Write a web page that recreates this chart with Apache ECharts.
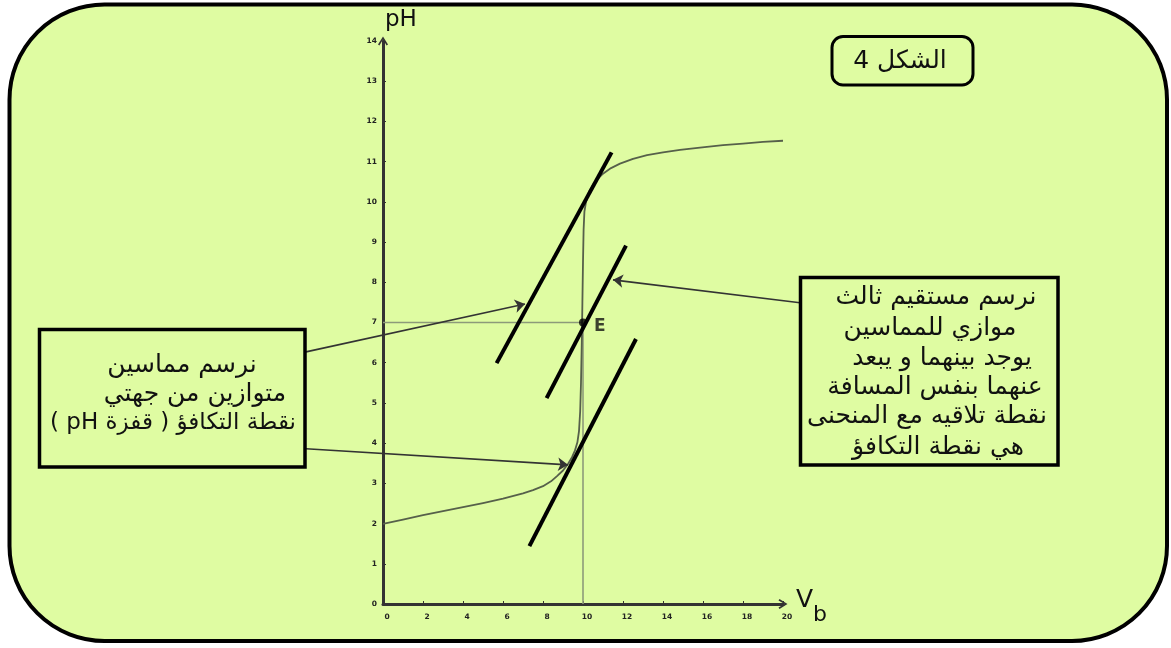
<!DOCTYPE html>
<html>
<head>
<meta charset="utf-8">
<script src="https://cdn.jsdelivr.net/npm/echarts@6/dist/echarts.min.js"></script>
<style>
html,body{margin:0;padding:0;background:#ffffff;}
#chart{width:1171px;height:648px;}
</style>
</head>
<body>
<div id="chart" dir="rtl"></div>
<script>
// Titration curve pH = f(Vb)
const vbValues = [0, 1, 2, 3, 4, 5, 6, 7, 7.5, 8, 8.4, 8.7, 9, 9.25, 9.45, 9.6, 9.72, 9.8, 9.86, 9.9, 9.94, 9.97, 10.0, 10.03, 10.07, 10.15, 10.3, 10.5, 10.75, 11, 11.4, 11.85, 12.5, 13.2, 14, 14.85, 15.85, 17, 18, 19, 20];
const phValues = [1.99, 2.1, 2.21, 2.31, 2.41, 2.51, 2.62, 2.75, 2.83, 2.93, 3.05, 3.18, 3.32, 3.48, 3.65, 3.82, 4.02, 4.3, 4.8, 5.5, 6.5, 7.5, 8.5, 9.3, 9.75, 10.0, 10.25, 10.43, 10.58, 10.7, 10.84, 10.95, 11.07, 11.16, 11.23, 11.29, 11.35, 11.41, 11.45, 11.49, 11.52];

// tangents and the parallel middle line
const tangentUpper = [[5.68, 5.99], [11.43, 11.23]];
const tangentLower = [[7.32, 1.44], [12.65, 6.59]];
const middleLine = [[8.18, 5.12], [12.15, 8.91]];

// equivalence point E
const pointE = [10, 7];
const dropHorizontal = [[0, 7], [10, 7]];
const dropVertical = [[10, 7], [10, 0]];

// annotation arrows (start, tip) in data units
const arrowToUpper = [[-3.85, 6.27], [7.1, 7.46]];
const arrowToLower = [[-3.85, 3.86], [9.25, 3.46]];
const arrowToMiddle = [[20.85, 7.49], [11.5, 8.06]];

// ticks
const xTicks = [0, 2, 4, 6, 8, 10, 12, 14, 16, 18, 20];
const yTicks = [0, 1, 2, 3, 4, 5, 6, 7, 8, 9, 10, 11, 12, 13, 14];

// texts
const titleText = 'الشكل 4';
const leftBoxLines = ['نرسم مماسين', 'متوازين من جهتي', 'نقطة التكافؤ ( قفزة pH )'];
const rightBoxLines = ['نرسم مستقيم ثالث', 'موازي للمماسين', 'يوجد بينهما و يبعد', 'عنهما بنفس المسافة', 'نقطة تلاقيه مع المنحنى', 'هي نقطة التكافؤ'];

const curveData = vbValues.map((v, i) => [v, phValues[i]]);
const FONT = 'DejaVu Sans';
const chevron = 'path://M5,0 L10,8 L8.6,9 L5,3 L1.4,9 L0,8 Z';
const textFont = '25px "DejaVu Sans"';

const graphics = [
  { type: 'rect', z: -10, silent: true,
    shape: { x: 9.5, y: 4.5, width: 1157.5, height: 636.5, r: 95 },
    style: { fill: '#dffca2', stroke: '#000', lineWidth: 4 } },
  { type: 'rect', z: 10,
    shape: { x: 832, y: 36.5, width: 141, height: 48.5, r: 11 },
    style: { fill: 'none', stroke: '#000', lineWidth: 3 } },
  { type: 'text', z: 10, x: 900, y: 61,
    style: { text: titleText, font: textFont, fill: '#111', textAlign: 'center', textVerticalAlign: 'middle' } },
  { type: 'rect', z: 10,
    shape: { x: 39.5, y: 329.5, width: 265.5, height: 137.5 },
    style: { fill: 'none', stroke: '#000', lineWidth: 3.5 } },
  { type: 'rect', z: 10,
    shape: { x: 800.5, y: 277.5, width: 257.5, height: 187.5 },
    style: { fill: 'none', stroke: '#000', lineWidth: 3.5 } },
  { type: 'text', z: 10, x: 385, y: 20,
    style: { text: 'pH', font: '23px "DejaVu Sans"', fill: '#111', textAlign: 'left', textVerticalAlign: 'middle' } },
  { type: 'text', z: 10, x: 796, y: 600,
    style: { text: 'V', font: '25px "DejaVu Sans"', fill: '#111', textAlign: 'left', textVerticalAlign: 'middle' } },
  { type: 'text', z: 10, x: 813, y: 615,
    style: { text: 'b', font: '22px "DejaVu Sans"', fill: '#111', textAlign: 'left', textVerticalAlign: 'middle' } }
];
const leftCenters = [182, 195, 173];
const leftYs = [365, 394, 423];
const leftFonts = [textFont, textFont, '23px "DejaVu Sans"'];
leftBoxLines.forEach((t, i) => graphics.push({ type: 'text', z: 10, x: leftCenters[i], y: leftYs[i],
  style: { text: t, font: leftFonts[i], fill: '#111', textAlign: 'center', textVerticalAlign: 'middle' } }));
const rightCenters = [936, 930, 942, 935, 927, 938];
const rightYs = [297, 328, 358, 387, 416, 447];
rightBoxLines.forEach((t, i) => graphics.push({ type: 'text', z: 10, x: rightCenters[i], y: rightYs[i],
  style: { text: t, font: textFont, fill: '#111', textAlign: 'center', textVerticalAlign: 'middle' } }));

const tickLabel = { fontFamily: FONT, fontSize: 7.5, fontWeight: 'bold', color: '#222' };

const chart = echarts.init(document.getElementById('chart'), null, { renderer: 'canvas' });
chart.setOption({
  animation: false,
  backgroundColor: 'transparent',
  grid: { left: 383, right: 388, top: 41, bottom: 44, containLabel: false },
  xAxis: {
    type: 'value', min: xTicks[0], max: xTicks[xTicks.length - 1], interval: 2,
    splitLine: { show: false },
    axisLine: { show: true, lineStyle: { color: '#333', width: 3 }, symbol: ['none', chevron], symbolSize: [10, 9] },
    axisTick: { show: true, inside: true, length: 3, lineStyle: { color: '#333', width: 1 } },
    axisLabel: Object.assign({ margin: 9, padding: [0, 0, 0, 8], showMaxLabel: true, showMinLabel: true }, tickLabel)
  },
  yAxis: {
    type: 'value', min: yTicks[0], max: yTicks[yTicks.length - 1], interval: 1,
    splitLine: { show: false },
    axisLine: { show: true, lineStyle: { color: '#333', width: 3 }, symbol: ['none', chevron], symbolSize: [10, 9] },
    axisTick: { show: true, inside: true, length: 3, lineStyle: { color: '#333', width: 1 } },
    axisLabel: Object.assign({ margin: 6, padding: [0, 0, 11, 0], showMaxLabel: true, showMinLabel: true }, tickLabel)
  },
  graphic: graphics,
  series: [
    { type: 'line', data: dropHorizontal, symbol: 'none', lineStyle: { color: '#8d9a7a', width: 1.6 }, z: 2 },
    { type: 'line', data: dropVertical, symbol: 'none', lineStyle: { color: '#8d9a7a', width: 1.6 }, z: 2 },
    { type: 'line', data: curveData, symbol: 'none', smooth: false,
      lineStyle: { color: '#56604a', width: 1.8, join: 'round' }, z: 3 },
    { type: 'line', data: tangentUpper, symbol: 'none', lineStyle: { color: '#000', width: 4 }, z: 4 },
    { type: 'line', data: middleLine, symbol: 'none', lineStyle: { color: '#000', width: 4 }, z: 4 },
    { type: 'line', data: tangentLower, symbol: 'none', lineStyle: { color: '#000', width: 4 }, z: 4 },
    { type: 'scatter', data: [pointE], symbol: 'circle', symbolSize: 8, itemStyle: { color: '#000' }, z: 5,
      label: { show: true, formatter: 'E', position: 'right', distance: 7, offset: [0, 4],
        fontFamily: FONT, fontSize: 17, fontWeight: 'bold', color: '#111' } },
    { type: 'lines', coordinateSystem: 'cartesian2d', clip: false, z: 6,
      symbol: ['none', 'arrow'], symbolSize: 10,
      lineStyle: { color: '#333', width: 1.6, curveness: 0, opacity: 1 },
      data: [ { coords: arrowToUpper }, { coords: arrowToLower }, { coords: arrowToMiddle } ] }
  ]
});
</script>
</body>
</html>
